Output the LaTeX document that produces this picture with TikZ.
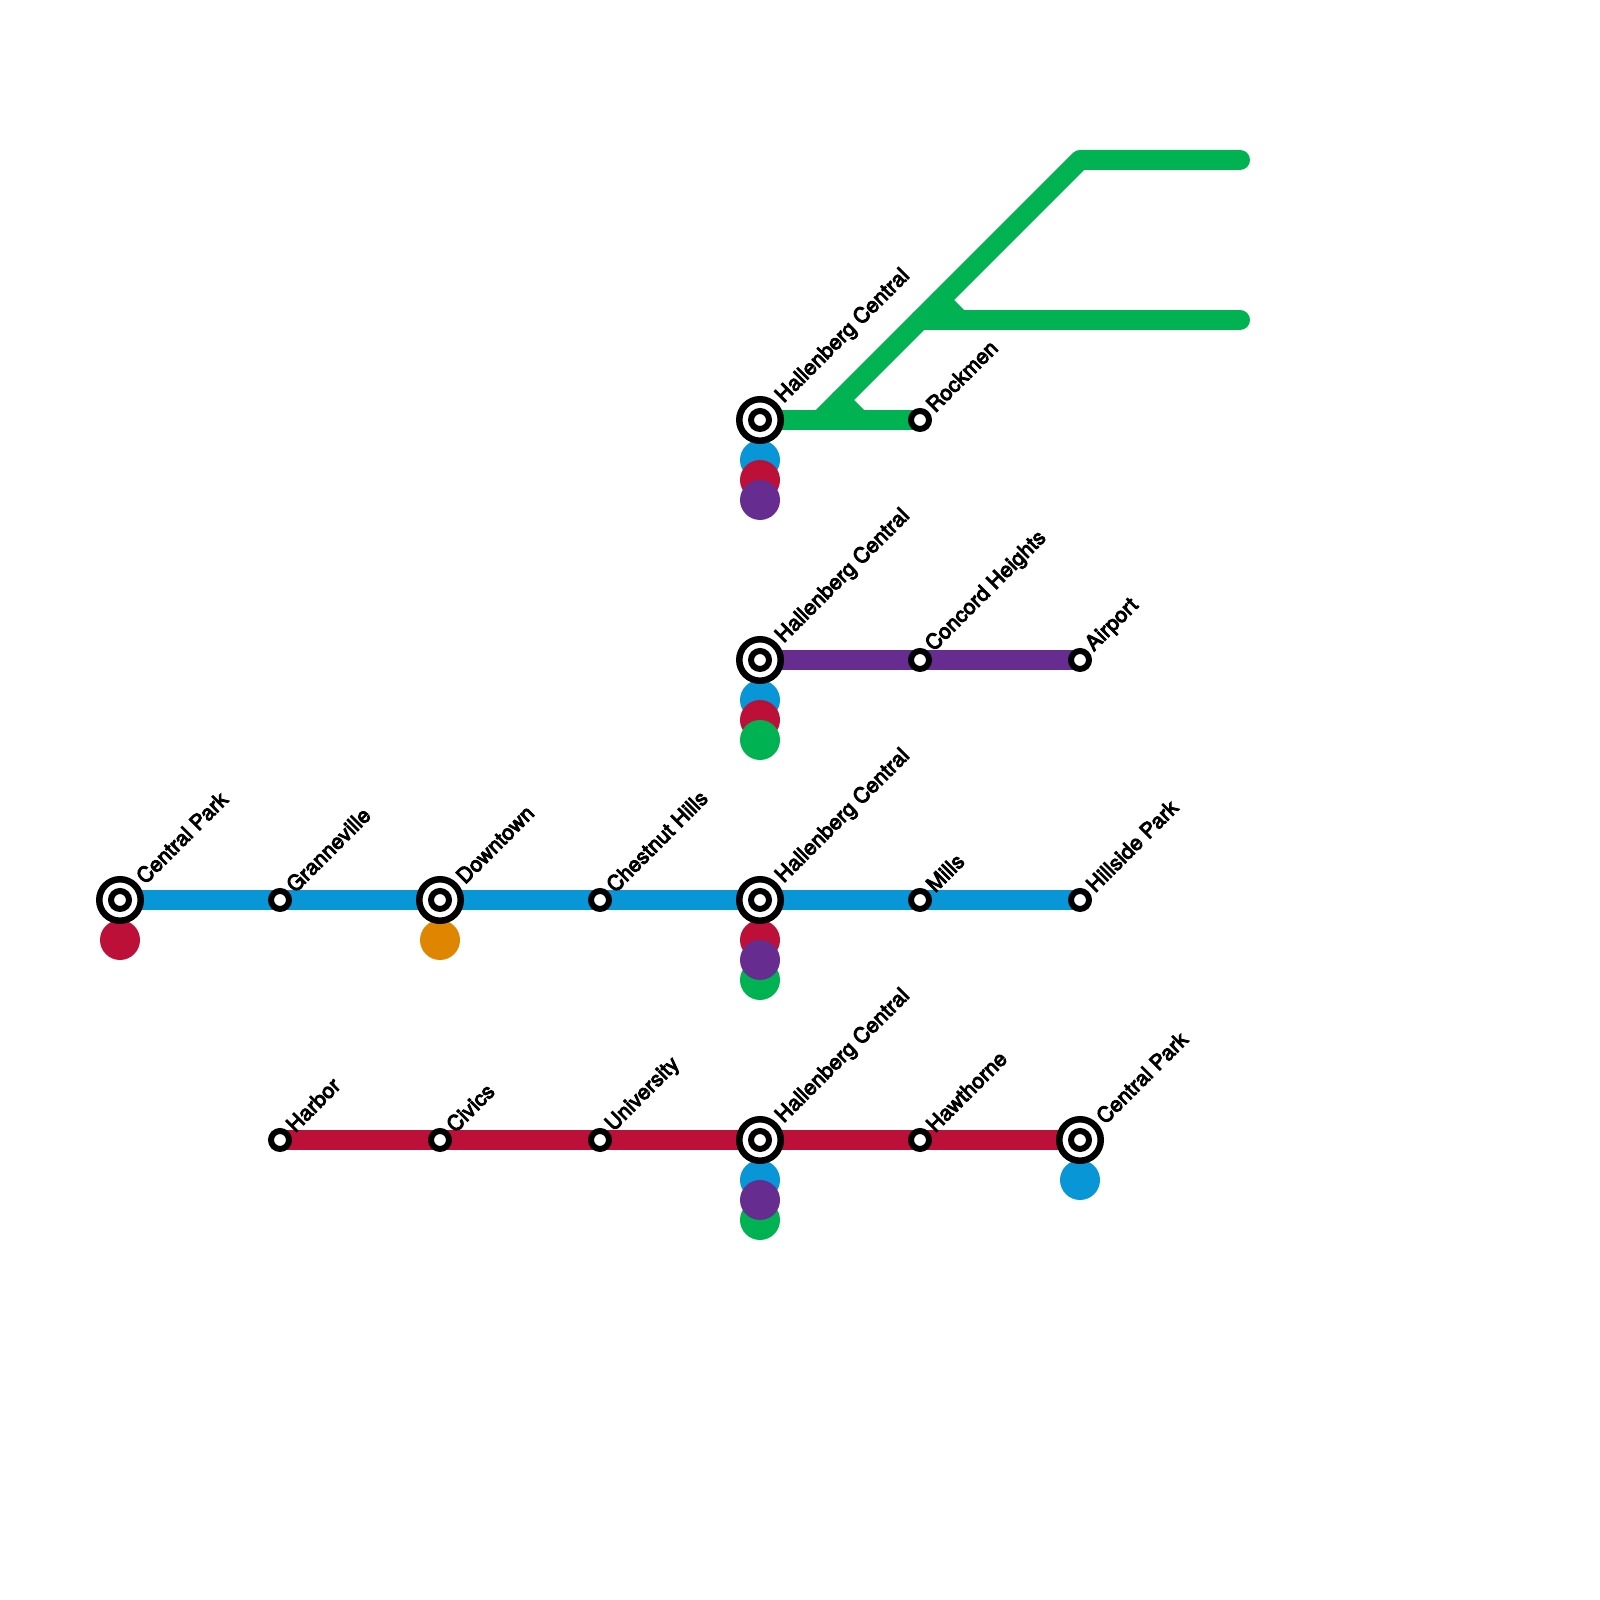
\documentclass[tikz,border=0pt]{standalone}
\usepackage{fontspec}
\setmainfont{TeX Gyre Heros}[BoldFont={TeX Gyre Heros},BoldFeatures={FakeBold=4.5,LetterSpace=1}]
\usetikzlibrary{backgrounds}
\definecolor{bluel}{HTML}{0896D7}
\definecolor{redl}{HTML}{BD1038}
\definecolor{purplel}{HTML}{662C90}
\definecolor{greenl}{HTML}{00B251}
\definecolor{orangel}{HTML}{DF8600}

\begin{document}
\begin{tikzpicture}[
  stn/.style={draw, circle, fill=white, line width=.06cm, minimum size=.18cm, inner sep=0pt, outer sep=0pt},
  hub/.style={stn, line width=.065cm, minimum size=.415cm},
  dot/.style={circle, minimum size=.4cm, inner sep=0pt, outer sep=0pt},
  lbl/.style={xshift=.1cm, yshift=.12cm, anchor=west, rotate=45, inner sep=0pt, outer sep=0pt, font=\fontsize{6pt}{6pt}\selectfont\bfseries},
  hlbl/.style={lbl, xshift=.13cm, yshift=-.01cm},
  ln/.style={line width=.2cm, line cap=round, line join=round}]
  \useasboundingbox (0,0) rectangle (16,16);

  % transfer dots
  \node[dot, fill=bluel]   (d1a) at (7.6,11.4) {};
  \node[dot, fill=redl]    (d1b) at (7.6,11.2) {};
  \node[dot, fill=purplel] (d1c) at (7.6,11.0) {};
  \node[dot, fill=bluel]   (d2a) at (7.6,9.0)  {};
  \node[dot, fill=redl]    (d2b) at (7.6,8.8)  {};
  \node[dot, fill=greenl]  (d2c) at (7.6,8.6)  {};
  \node[dot, fill=redl]    (d3a) at (7.6,6.6)  {};
  \node[dot, fill=greenl]  (d3c) at (7.6,6.2)  {};
  \node[dot, fill=purplel] (d3b) at (7.6,6.4)  {};
  \node[dot, fill=bluel]   (d4a) at (7.6,4.2)  {};
  \node[dot, fill=greenl]  (d4c) at (7.6,3.8)  {};
  \node[dot, fill=purplel] (d4b) at (7.6,4.0)  {};
  \node[dot, fill=redl]    (d5)  at (1.2,6.6)  {};
  \node[dot, fill=orangel] (d6)  at (4.4,6.6)  {};
  \node[dot, fill=bluel]   (d7)  at (10.8,4.2) {};

  % green line
  \node[hub] (hg) at (7.6,11.8) {};
  \node[stn] (hgi) at (hg) {};
  \node[stn] (rock) at (9.2,11.8) {};
  \coordinate (g1) at (12.4,14.4);
  \coordinate (g2) at (10.8,14.4);
  \coordinate (g3) at (8.2,11.8);
  \coordinate (g4) at (12.4,12.8);
  \coordinate (g5) at (9.2,12.8);
  \coordinate (g6) at (9.6,12.8);
  \coordinate (g7) at (9.4,13);
  \coordinate (g8) at (8.6,11.8);
  \coordinate (g9) at (8.4,12);
  \begin{pgfonlayer}{background}
    \draw[ln, greenl] (hg.center) -- (rock.center);
    \draw[ln, greenl] (g1) -- (g2) -- (g3);
    \draw[ln, greenl] (g4) -- (g5);
    \draw[ln, greenl] (g6) -- (g7);
    \draw[ln, greenl] (g8) -- (g9);
  \end{pgfonlayer}
  \node[hlbl] (hgl) at (hg) {Hallenberg Central};
  \node[lbl] (rockl) at (rock) {Rockmen};

  % purple line
  \node[hub] (hp) at (7.6,9.4) {};
  \node[stn] (hpi) at (hp) {};
  \node[stn] (conc) at (9.2,9.4) {};
  \node[stn] (air) at (10.8,9.4) {};
  \begin{pgfonlayer}{background}
    \draw[ln, purplel] (hp.center) -- (air.center);
  \end{pgfonlayer}
  \node[hlbl] (hpl) at (hp) {Hallenberg Central};
  \node[lbl] (concl) at (conc) {Concord Heights};
  \node[lbl] (airl) at (air) {Airport};

  % blue line
  \node[hub] (cpa) at (1.2,7) {};
  \node[stn] (cpai) at (cpa) {};
  \node[stn] (gran) at (2.8,7) {};
  \node[hub] (down) at (4.4,7) {};
  \node[stn] (downi) at (down) {};
  \node[stn] (ches) at (6,7) {};
  \node[hub] (hb) at (7.6,7) {};
  \node[stn] (hbi) at (hb) {};
  \node[stn] (mill) at (9.2,7) {};
  \node[stn] (hill) at (10.8,7) {};
  \begin{pgfonlayer}{background}
    \draw[ln, bluel] (cpa.center) -- (hill.center);
  \end{pgfonlayer}
  \node[hlbl] (cpal) at (cpa) {Central Park};
  \node[lbl] (granl) at (gran) {Granneville};
  \node[hlbl] (downl) at (down) {Downtown};
  \node[lbl] (chesl) at (ches) {Chestnut Hills};
  \node[hlbl] (hbl) at (hb) {Hallenberg Central};
  \node[lbl] (milll) at (mill) {Mills};
  \node[lbl] (hilll) at (hill) {Hillside Park};

  % red line
  \node[stn] (harb) at (2.8,4.6) {};
  \node[stn] (civ) at (4.4,4.6) {};
  \node[stn] (univ) at (6,4.6) {};
  \node[hub] (hr) at (7.6,4.6) {};
  \node[stn] (hri) at (hr) {};
  \node[stn] (haw) at (9.2,4.6) {};
  \node[hub] (cpb) at (10.8,4.6) {};
  \node[stn] (cpbi) at (cpb) {};
  \begin{pgfonlayer}{background}
    \draw[ln, redl] (harb.center) -- (cpb.center);
  \end{pgfonlayer}
  \node[lbl] (harbl) at (harb) {Harbor};
  \node[lbl] (civl) at (civ) {Civics};
  \node[lbl] (univl) at (univ) {University};
  \node[hlbl] (hrl) at (hr) {Hallenberg Central};
  \node[lbl] (hawl) at (haw) {Hawthorne};
  \node[hlbl] (cpbl) at (cpb) {Central Park};
\end{tikzpicture}
\end{document}
